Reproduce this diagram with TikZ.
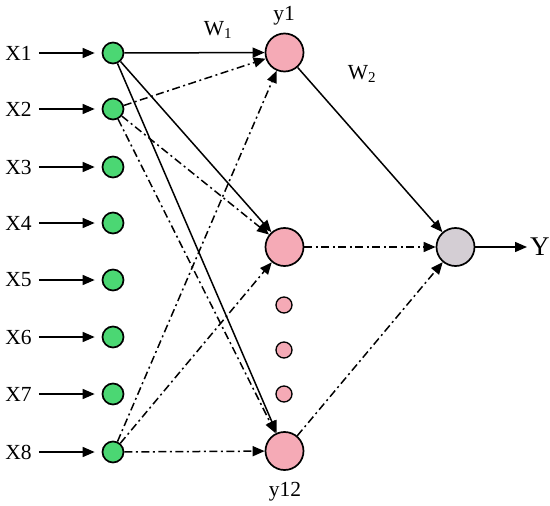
\documentclass[tikz,border=0pt]{standalone}
\usepackage{fontspec}
\setmainfont{Liberation Serif}
\usetikzlibrary{arrows.meta}
\definecolor{ingreen}{RGB}{75,215,115}
\definecolor{hidpink}{RGB}{245,170,182}
\definecolor{outgray}{RGB}{212,206,212}
\tikzset{
  innode/.style={circle,draw=black,line width=1.7pt,fill=ingreen,minimum size=21pt,inner sep=0pt},
  hidnode/.style={circle,draw=black,line width=1.7pt,fill=hidpink,minimum size=38pt,inner sep=0pt},
  dotnode/.style={circle,draw=black,line width=1.3pt,fill=hidpink,minimum size=16pt,inner sep=0pt},
  outnode/.style={circle,draw=black,line width=1.7pt,fill=outgray,minimum size=38pt,inner sep=0pt},
  lab/.style={inner sep=0pt,font=\fontsize{21.5}{24}\selectfont},
  tip/.style={-{Triangle[length=12pt,width=10pt]}},
  conn/.style={tip,line width=1.5pt},
  dashdot/.style={conn,dash pattern=on 8pt off 3.5pt on 2pt off 3.5pt},
}
\begin{document}
\begin{tikzpicture}[x=1pt,y=-1pt]
\useasboundingbox (0,0) rectangle (550,506);
% input nodes and labels
\foreach \i/\yy in {1/53,2/109,3/167,4/223,5/280,6/337,7/394,8/452}{
  \node[innode] (n\i) at (113,\yy) {};
  \node[lab] (lx\i) at (18.5,\yy) {X\i};
  \draw[conn,shorten <=7pt,shorten >=7pt] (lx\i) -- (n\i);
}
% hidden nodes
\node[hidnode] (h1) at (284.5,52.5) {};
\node[hidnode] (hm) at (284.5,247) {};
\node[dotnode] (d1) at (284,305) {};
\node[dotnode] (d2) at (284,350) {};
\node[dotnode] (d3) at (284,394) {};
\node[hidnode] (h12) at (284.5,451) {};
% output
\node[outnode] (out) at (455.5,247) {};
\node[inner sep=0pt,font=\fontsize{27}{30}\selectfont,anchor=west] (ylab) at (530,247) {Y};
% labels
\node[lab] (ly1) at (284,16) {y1};
\node[lab] (ly12) at (285,492) {y12};
\node[lab] (w1) at (218,30) {W$_{\mathrm{1}}$};
\node[lab] (w2) at (362,74) {W$_{\mathrm{2}}$};
% first layer connectors
\draw[conn] (n1) -- (h1);
\draw[conn] (n1) -- (hm);
\draw[conn] (n1) -- (h12);
\draw[dashdot] (n2) -- (h1);
\draw[dashdot] (n2) -- (hm);
\draw[dashdot] (n2) -- (h12);
\draw[dashdot] (n8) -- (h1);
\draw[dashdot] (n8) -- (hm);
\draw[dashdot] (n8) -- (h12);
% second layer
\draw[conn] (h1) -- (out);
\draw[dashdot] (hm) -- (out);
\draw[dashdot] (h12) -- (out);
\draw[conn,shorten >=3pt] (out) -- (ylab);
\end{tikzpicture}
\end{document}
